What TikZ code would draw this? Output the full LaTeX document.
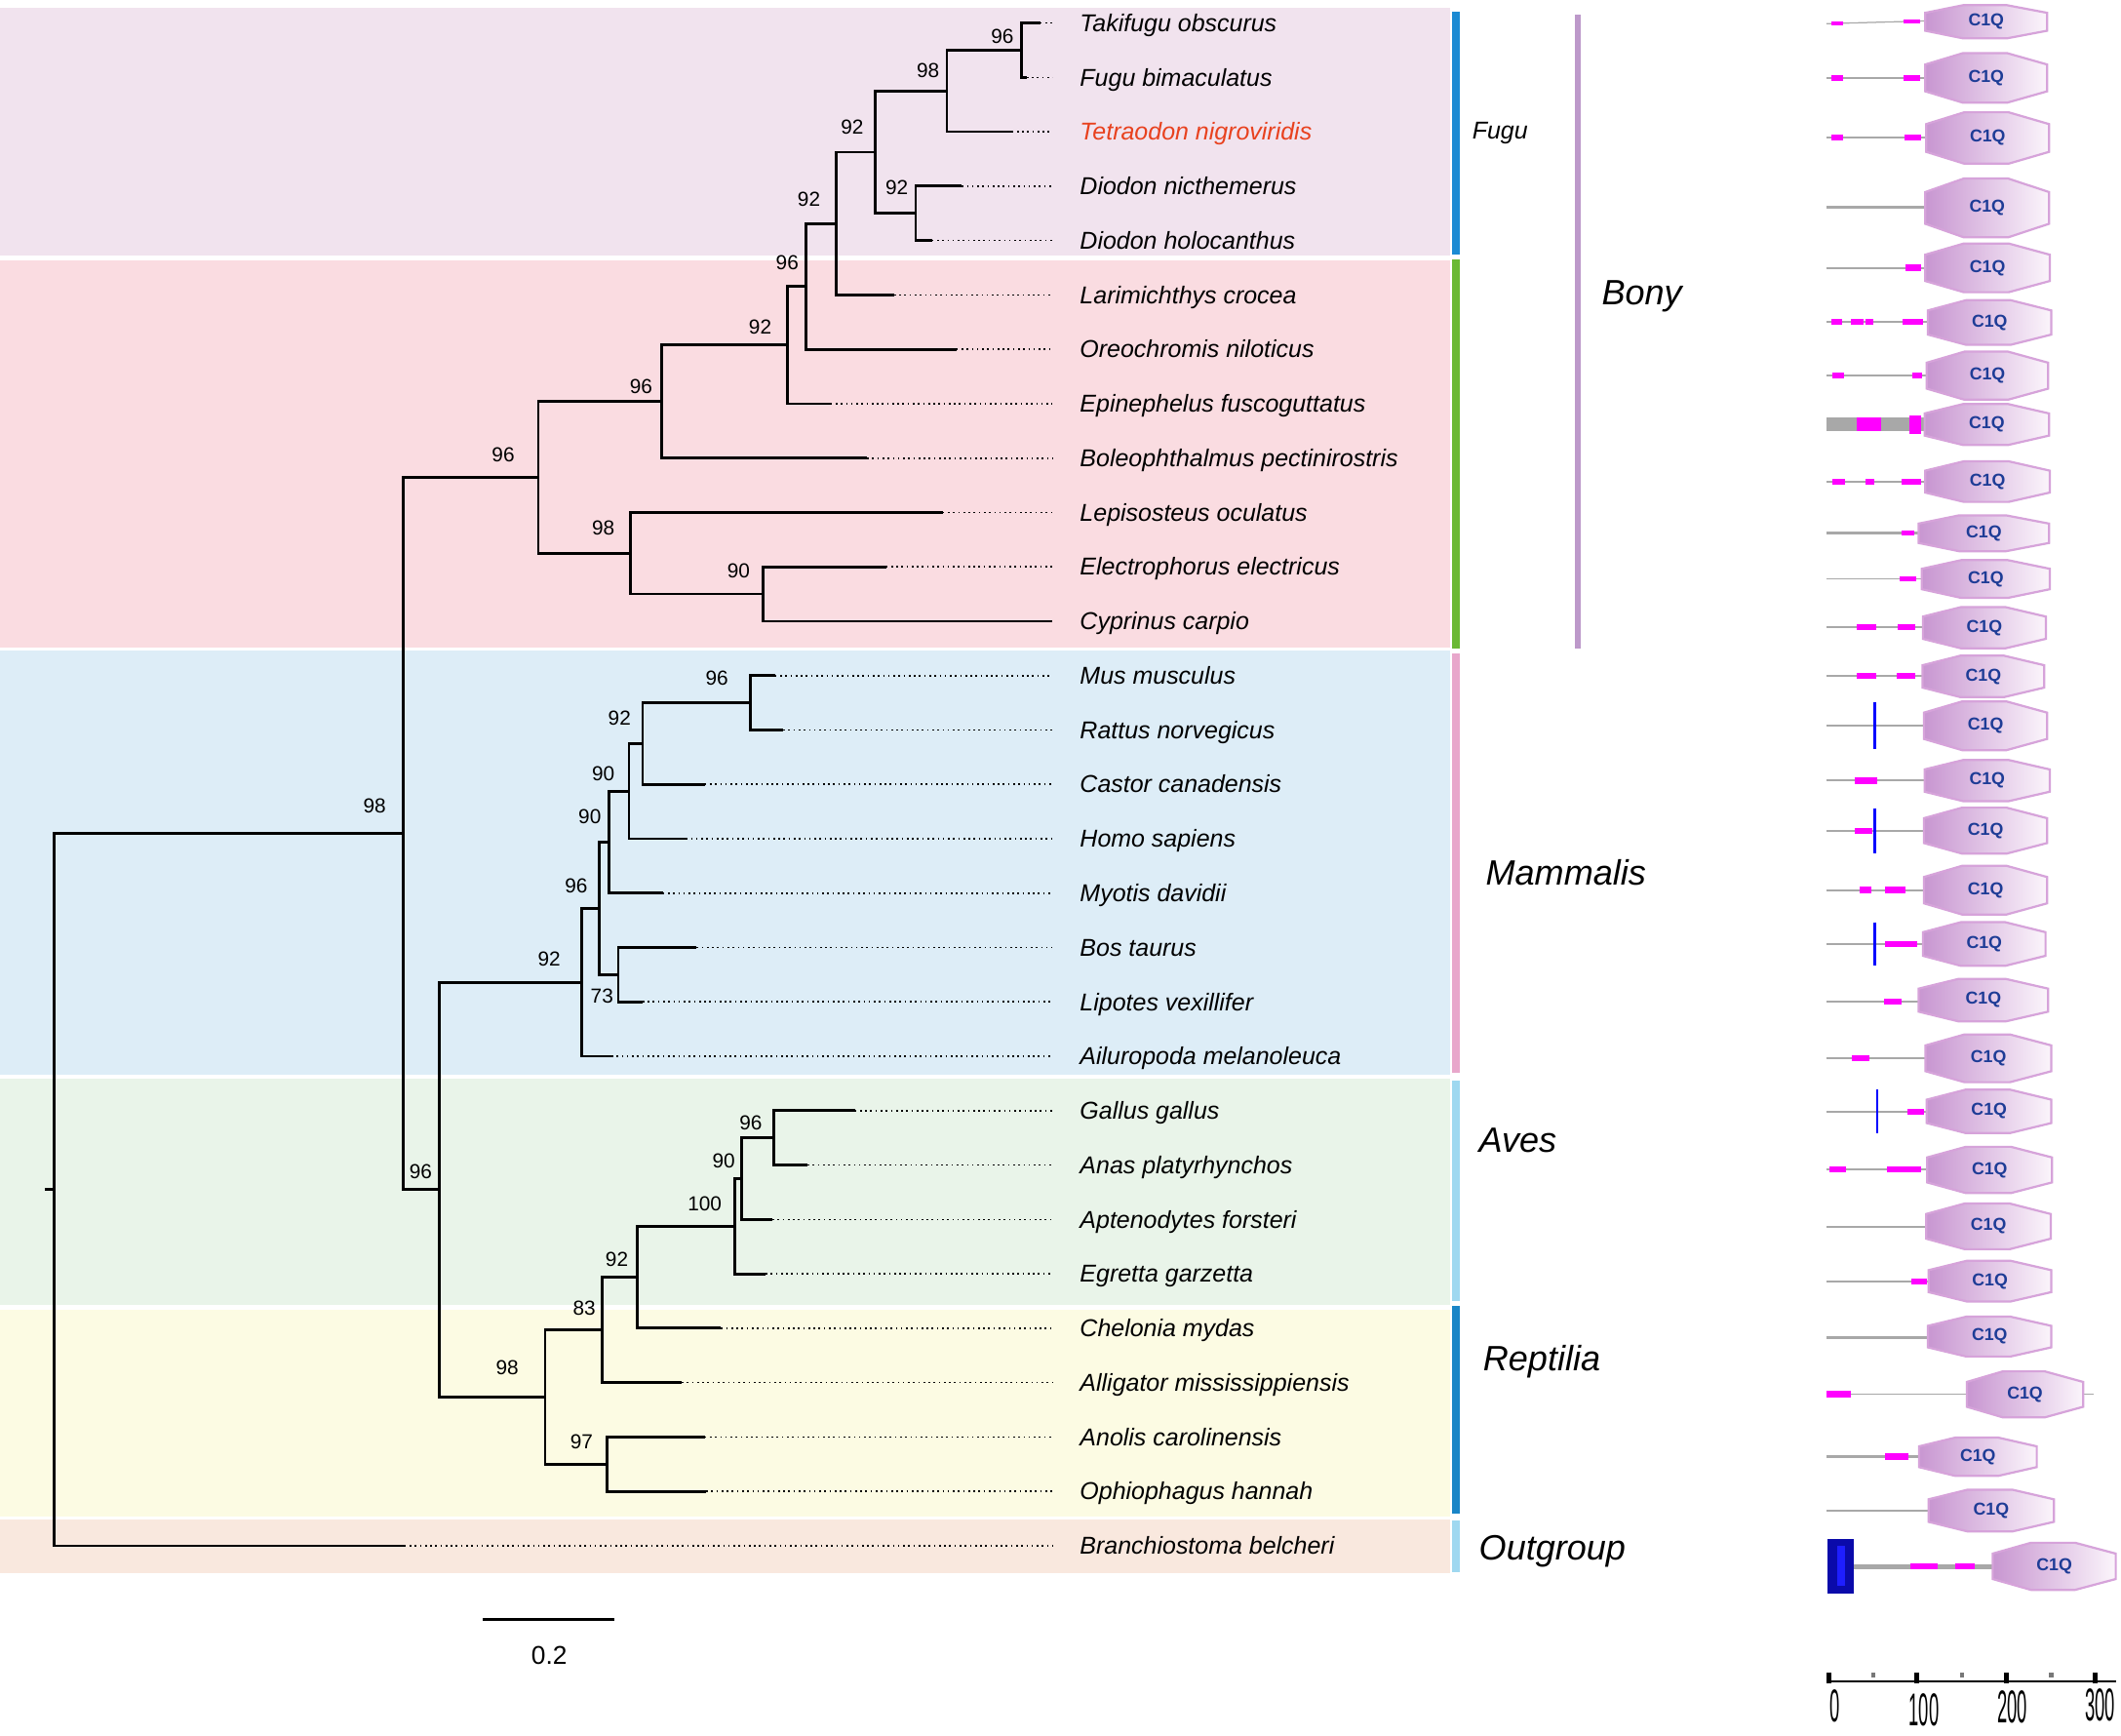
\documentclass[tikz,border=0pt]{standalone}
\usepackage{fontspec}
\setmainfont{Liberation Sans}
\definecolor{bandF}{RGB}{241,227,238}
\definecolor{bandR}{RGB}{250,220,225}
\definecolor{bandB}{RGB}{221,237,247}
\definecolor{bandG}{RGB}{233,244,233}
\definecolor{bandY}{RGB}{252,251,227}
\definecolor{bandO}{RGB}{249,232,222}
\definecolor{barFugu}{RGB}{27,139,211}
\definecolor{barGreen}{RGB}{106,185,52}
\definecolor{barPink}{RGB}{232,167,203}
\definecolor{barLB}{RGB}{159,216,240}
\definecolor{barRep}{RGB}{26,133,199}
\definecolor{barBony}{RGB}{189,153,202}
\definecolor{tetred}{RGB}{232,65,30}
\definecolor{cqL}{RGB}{200,150,209}
\definecolor{cqR}{RGB}{251,245,251}
\definecolor{cqB}{RGB}{214,163,218}
\definecolor{cqT}{RGB}{30,60,150}
\definecolor{gline}{RGB}{168,168,168}
\definecolor{mag}{RGB}{255,0,255}
\definecolor{dblue}{RGB}{10,10,170}
\definecolor{lblue}{RGB}{30,30,255}
\definecolor{tickgray}{RGB}{120,120,120}
\newcommand\cqoct[5]{%
 \shadedraw[cqs] (#2,{#4-0.27*#5}) -- ({#2+0.31*(#3-#2)},{#4-0.5*#5}) -- ({#3-0.33*(#3-#2)},{#4-0.5*#5}) -- (#3,{#4-0.27*#5}) -- (#3,{#4+0.27*#5}) -- ({#3-0.33*(#3-#2)},{#4+0.5*#5}) -- ({#2+0.31*(#3-#2)},{#4+0.5*#5}) -- (#2,{#4+0.27*#5}) -- cycle;
 \node[cqt] (#1) at ({0.5*(#2+#3)},#4) {C1Q};}
\newcommand\mgb[4][4.6]{\fill[mag] (#2,{#4-0.5*#1}) rectangle (#3,{#4+0.5*#1});}
\newcommand\gln[4][0.75pt]{\draw[gl,line width=#1] (#2,#4) -- (#3,#4);}
\begin{document}
\begin{tikzpicture}[x=0.5pt,y=-0.5pt,
  sp/.style={anchor=base west,inner sep=0pt,font=\fontsize{9}{9}\selectfont\itshape},
  bs/.style={inner sep=0pt,font=\fontsize{7.5}{7.5}\selectfont},
  grp/.style={anchor=base west,inner sep=0pt,font=\fontsize{13}{13}\selectfont\itshape},
  br/.style={line width=1pt,black},
  dots/.style={line width=0.6pt,dash pattern=on 0.6pt off 1.3pt},
  cqs/.style={left color=cqL,right color=cqR,draw=cqB,line width=0.8pt},
  cqt/.style={inner sep=0pt,text=cqT,font=\fontsize{6.4}{6.4}\selectfont\bfseries},
  gl/.style={draw=gline},
  axl/.style={inner sep=0pt,font=\fontsize{17}{17}\selectfont},
  blu/.style={draw=blue,line width=1pt}
]
\useasboundingbox (0,0) rectangle (1568,1283);
\fill[white] (0,0) rectangle (1568,1283);
% bands
\fill[bandF] (0,6) rectangle (1072,189);
\fill[bandR] (0,192.5) rectangle (1072,478.6);
\fill[bandB] (0,481) rectangle (1072,794.6);
\fill[bandG] (0,797) rectangle (1072,964.5);
\fill[bandY] (0,968) rectangle (1072,1121);
\fill[bandO] (0,1123) rectangle (1072,1162.5);
% side bars
\fill[barFugu] (1073.5,9) rectangle (1079,188);
\fill[barGreen] (1073.5,191.5) rectangle (1079,479.6);
\fill[barPink] (1073.5,483) rectangle (1079,793);
\fill[barLB] (1073.5,799) rectangle (1079,962);
\fill[barRep] (1073.5,965) rectangle (1079,1119);
\fill[barLB] (1073.5,1124) rectangle (1079,1162);
\fill[barBony] (1164.5,11) rectangle (1168.7,479.6);
% group labels
\node[grp,font=\fontsize{9}{9}\selectfont\itshape] (gFugu) at (1088,103) {Fugu};
\node[grp] (gBony) at (1183.7,225) {Bony};
\node[grp] (gMam) at (1098,654) {Mammalis};
\node[grp] (gAves) at (1093,852) {Aves};
\node[grp] (gRep) at (1096,1013) {Reptilia};
\node[grp] (gOut) at (1093,1153) {Outgroup};
% leaves
\foreach \i/\yy/\tx/\lab/\col in {
1/17/769/Takifugu obscurus/black,
2/57.2/759/Fugu bimaculatus/black,
3/97.4/748/Tetraodon nigroviridis/tetred,
4/137.6/711/Diodon nicthemerus/black,
5/177.8/689/Diodon holocanthus/black,
6/218/661/Larimichthys crocea/black,
7/258.2/707/Oreochromis niloticus/black,
8/298.4/614/Epinephelus fuscoguttatus/black,
9/338.6/641/Boleophthalmus pectinirostris/black,
10/378.8/697/Lepisosteus oculatus/black,
11/419/655/Electrophorus electricus/black,
12/459.2/777/Cyprinus carpio/black,
13/499.4/573/Mus musculus/black,
14/539.6/579/Rattus norvegicus/black,
15/579.8/521/Castor canadensis/black,
16/620/507/Homo sapiens/black,
17/660.2/490/Myotis davidii/black,
18/700.4/515/Bos taurus/black,
19/740.6/475/Lipotes vexillifer/black,
20/780.8/452/Ailuropoda melanoleuca/black,
21/821/632/Gallus gallus/black,
22/861.2/597/Anas platyrhynchos/black,
23/901.4/571/Aptenodytes forsteri/black,
24/941.6/566/Egretta garzetta/black,
25/981.8/533/Chelonia mydas/black,
26/1022/504/Alligator mississippiensis/black,
27/1062.2/521/Anolis carolinensis/black,
28/1102.4/522/Ophiophagus hannah/black,
29/1142.6/299/Branchiostoma belcheri/black}{
 \coordinate (t\i) at (\tx,\yy);
 \coordinate (d\i) at (778,\yy);
 \draw[dots] (t\i) -- (d\i);
 \node[sp,text=\col] (s\i) at (798,\yy+6.3) {\lab};
}
% internal nodes
\coordinate (nA) at (755,37.1);
\coordinate (nB) at (700,67.25);
\coordinate (nC) at (677,157.7);
\coordinate (nD) at (647,112.5);
\coordinate (nE) at (618,165.25);
\coordinate (nF) at (596,211.7);
\coordinate (nG) at (582,255.05);
\coordinate (nH) at (489,296.8);
\coordinate (nI) at (564,439.1);
\coordinate (nJ) at (466,408.95);
\coordinate (nK) at (398,352.9);
\coordinate (mA) at (555,519.5);
\coordinate (mB) at (475,549.65);
\coordinate (mC) at (465,584.8);
\coordinate (mD) at (450,622.5);
\coordinate (mE) at (457,720.5);
\coordinate (mF) at (443,671.5);
\coordinate (mG) at (430,726.15);
\coordinate (bA) at (572,841.1);
\coordinate (bB) at (548,871.25);
\coordinate (bC) at (543,906.4);
\coordinate (bD) at (471,944.1);
\coordinate (bE) at (445,983.05);
\coordinate (bF) at (449,1082.3);
\coordinate (bG) at (403,1032.7);
\coordinate (tT) at (325,879.4);
\coordinate (vV) at (298,616.15);
\coordinate (rt) at (40,879.4);
\coordinate (rs) at (33,879.4);
\foreach \p/\c in {nA/t1,nA/t2,nB/nA,nB/t3,nC/t4,nC/t5,nD/nB,nD/nC,nE/nD,nE/t6,
  nF/nE,nF/t7,nG/nF,nG/t8,nH/nG,nH/t9,nI/t11,nI/t12,nJ/t10,nJ/nI,nK/nH,nK/nJ,
  mA/t13,mA/t14,mB/mA,mB/t15,mC/mB,mC/t16,mD/mC,mD/t17,mE/t18,mE/t19,mF/mD,mF/mE,
  mG/mF,mG/t20,bA/t21,bA/t22,bB/bA,bB/t23,bC/bB,bC/t24,bD/bC,bD/t25,bE/bD,bE/t26,
  bF/t27,bF/t28,bG/bE,bG/bF,tT/mG,tT/bG,vV/nK,vV/tT,rt/vV,rt/t29}{
 \draw[br] (\p) |- (\c);
}
\draw[br] (rs) -- (rt);
% bootstrap values
\foreach \nm/\xx/\yy/\v in {nA/741/27/96,nB/686/52/98,nD/630/94/92,nC/663/139/92,
  nE/598/147/92,nF/582/194/96,nG/562/242/92,nH/474/286/96,nK/372/336/96,nJ/446/390/98,
  nI/546/422/90,vV/277/596/98,mA/530/501/96,mB/458/531/92,mC/446/572/90,mD/436/604/90,
  mF/426/655/96,mG/406/709/92,mE/445/736/73,tT/311/866/96,bA/555/830/96,bB/535/858/90,
  bC/521/890/100,bD/456/931/92,bE/432/967/83,bG/375/1011/98,bF/430/1066/97}{
 \node[bs] (L\nm) at (\xx,\yy) {\v};
}
% scale bar
\coordinate (sb1) at (357,1197);
\coordinate (sb2) at (454,1197);
\draw[line width=1pt] (sb1) -- (sb2);
\node[inner sep=0pt,font=\fontsize{9.5}{9.5}\selectfont] (sbl) at (406,1224) {0.2};
% domain architectures
% R1
\draw[gl,line width=0.45pt] (1350.2,17.5) -- (1423.3,15.5);
\mgb[2.8]{1353.8}{1362.2}{17.3}\mgb[2.8]{1407.4}{1419.2}{15.8}
\cqoct{c1}{1423.3}{1513.4}{16.1}{24.5}
% R2
\gln{1350.2}{1423.3}{57.6}\mgb{1353.8}{1362.2}{57.6}\mgb{1407.4}{1419.2}{57.6}
\cqoct{c2}{1423.3}{1513.4}{57.6}{36.7}
% R3
\gln{1350.2}{1424}{101.7}\mgb{1353.8}{1362.2}{101.7}\mgb{1407.9}{1419.9}{101.7}
\cqoct{c3}{1424}{1514.8}{102}{38}
% R4
\gln[1.1pt]{1350.2}{1423.3}{153.2}
\cqoct{c4}{1423.3}{1514.8}{153.7}{43.4}
% R5
\gln{1350.2}{1423.3}{198}\mgb{1408.6}{1419.9}{198}
\cqoct{c5}{1423.3}{1515.3}{198}{36}
% R6
\gln{1350.2}{1425.2}{238}\mgb{1353.8}{1361.5}{238}\mgb{1368}{1377.6}{238}\mgb{1378.8}{1384.8}{238}\mgb{1406.4}{1421.3}{238}
\cqoct{c6}{1425.2}{1516.5}{238.4}{33}
% R7
\gln{1350.2}{1424.4}{277.4}\mgb{1354.8}{1363.2}{277.4}\mgb{1413.4}{1420.6}{277.4}
\cqoct{c7}{1424.4}{1514.1}{277.7}{35.5}
% R8
\fill[gline] (1350.2,308.5) rectangle (1422.8,319);
\fill[mag] (1372.8,308.5) rectangle (1390.6,319);
\fill[mag] (1411.2,307) rectangle (1419.9,321);
\cqoct{c8}{1422.8}{1514.8}{313.8}{30.3}
% R9
\gln{1350.2}{1423.3}{356}\mgb{1354.8}{1363.9}{356}\mgb{1379}{1385.3}{356}\mgb{1405.9}{1419.9}{356}
\cqoct{c9}{1423.3}{1515.3}{356}{30}
% R10
\gln{1350.2}{1418.4}{394}\mgb[3.6]{1405.5}{1415.1}{394}
\cqoct{c10}{1418.4}{1514.8}{394.2}{26.5}
% R11
\gln[0.45pt]{1350.2}{1420.8}{428}\mgb[4]{1404.3}{1416.5}{428}
\cqoct{c11}{1420.8}{1515.3}{428}{28}
% R12
\gln{1350.2}{1421.6}{463.5}\mgb{1372.8}{1387}{463.5}\mgb{1402.6}{1416}{463.5}
\cqoct{c12}{1421.6}{1512.4}{464}{30.5}
% R13
\gln{1350.2}{1421.3}{499.8}\mgb{1372.8}{1386.8}{499.8}\mgb{1402.1}{1415.6}{499.8}
\cqoct{c13}{1421.3}{1511.2}{500}{30.6}
% R14
\gln{1350.2}{1422.3}{536.2}\draw[blu] (1386.2,519.1) -- (1386.2,553.9);
\cqoct{c14}{1422.3}{1513.4}{536.5}{36}
% R15
\gln{1350.2}{1422.8}{577}\mgb{1371.1}{1387.4}{577}
\cqoct{c15}{1422.8}{1515.3}{577}{30.5}
% R16
\gln{1350.2}{1422.3}{614}\mgb{1371.1}{1384.5}{614}\draw[blu] (1386.2,597.3) -- (1386.2,631);
\cqoct{c16}{1422.3}{1513.4}{614}{34}
% R17
\gln{1350.2}{1422.3}{657.9}\mgb{1375}{1383.1}{657.9}\mgb{1393.7}{1408.3}{657.9}
\cqoct{c17}{1422.3}{1513.4}{658}{36}
% R18
\gln{1350.2}{1421.6}{697.8}\draw[blu] (1386.2,681.7) -- (1386.2,714);\mgb{1393.7}{1417.5}{697.8}
\cqoct{c18}{1421.6}{1512.2}{697.8}{32.3}
% R19
\gln{1350.2}{1418.4}{740.6}\mgb{1392.7}{1405.9}{740.6}
\cqoct{c19}{1418.4}{1514.1}{739.3}{31.5}
% R20
\gln{1350.2}{1423.5}{782.4}\mgb{1368.7}{1381.7}{782.4}
\cqoct{c20}{1423.5}{1516.5}{782.3}{35.3}
% R21
\gln{1350.2}{1424.4}{821.7}\draw[blu] (1387.7,805.6) -- (1387.7,837.8);\mgb{1409.8}{1422.3}{821.7}
\cqoct{c21}{1424.4}{1516.5}{821.5}{32}
% R22
\gln{1350.2}{1424.7}{864.5}\mgb{1352.4}{1364.4}{864.5}\mgb{1395.1}{1420.4}{864.5}
\cqoct{c22}{1424.7}{1517}{864.8}{34.2}
% R23
\gln{1350.2}{1424}{906.6}
\cqoct{c23}{1424}{1516}{906.5}{33.8}
% R24
\gln{1350.2}{1425.7}{947.2}\mgb{1412.7}{1424.5}{947.2}
\cqoct{c24}{1425.7}{1516.5}{947}{30}
% R25
\gln[1.4pt]{1350.2}{1425.2}{988.7}
\cqoct{c25}{1425.2}{1516.5}{988}{29.4}
% R26
\gln[0.6pt]{1368}{1547.7}{1030.5}\mgb[4.5]{1350.2}{1368}{1030.5}
\cqoct{c26}{1454}{1540}{1030.7}{34}
% R27
\gln{1350.2}{1418.7}{1076.7}\mgb{1393.5}{1410.8}{1076.7}
\cqoct{c27}{1418.7}{1505.7}{1076.8}{28.4}
% R28
\gln{1350.2}{1425.7}{1116.6}
\cqoct{c28}{1425.7}{1518.4}{1116.6}{30.8}
% R29
\gln[2pt]{1370.6}{1473.2}{1158}
\fill[dblue] (1351.2,1137.3) rectangle (1370.6,1178.1);
\fill[lblue] (1357.9,1143) rectangle (1363.9,1172);
\mgb[4.3]{1412}{1432.4}{1158}\mgb[4.3]{1445.6}{1459.5}{1158}
\cqoct{c29}{1473.2}{1564.1}{1157.8}{34.8}
% axis
\coordinate (ax0) at (1350.2,1243);
\coordinate (ax1) at (1564.6,1243);
\draw[line width=0.8pt] (ax0) -- (ax1);
\foreach \tx in {1351.9,1417.2,1483.3,1549.2}{\fill[black] (\tx-1.8,1236.5) rectangle (\tx+1.8,1244);}
\foreach \tx in {1384.8,1450.4,1516.5}{\fill[tickgray] (\tx-1.6,1236.3) rectangle (\tx+1.6,1239.8);}
\node[axl] (a0) at (1356.2,1261) {\scalebox{0.39}[1]{0}};
\node[axl] (a1) at (1422.3,1264) {\scalebox{0.39}[1]{100}};
\node[axl] (a2) at (1487.7,1261.5) {\scalebox{0.39}[1]{200}};
\node[axl] (a3) at (1552.5,1260.5) {\scalebox{0.39}[1]{300}};
\end{tikzpicture}
\end{document}
